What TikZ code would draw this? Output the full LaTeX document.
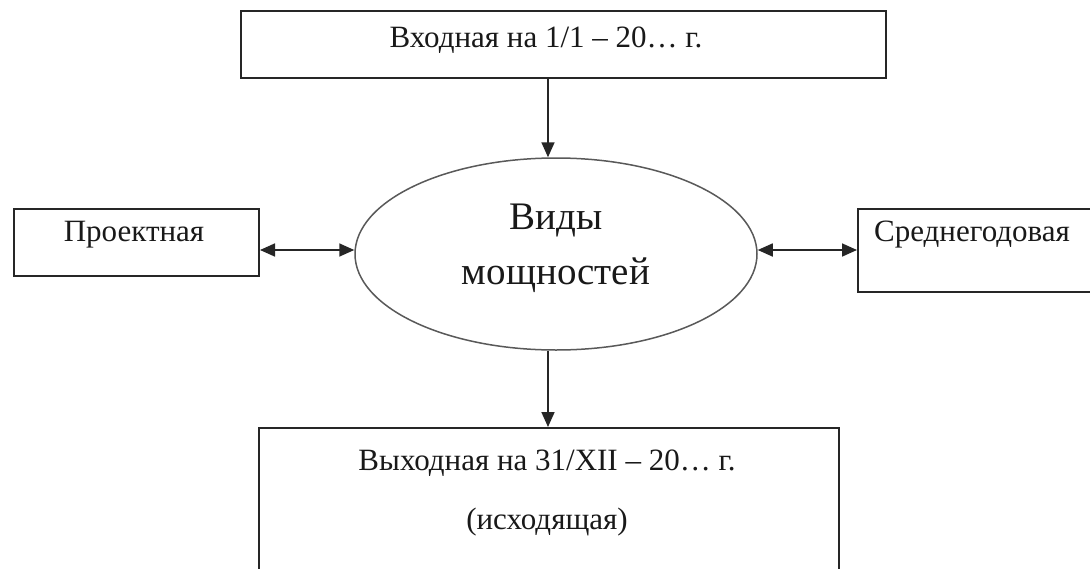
\documentclass[tikz,border=0pt]{standalone}
\usepackage{fontspec}
\setmainfont{Liberation Serif}
\usetikzlibrary{arrows.meta,shapes.geometric}
\begin{document}
\begin{tikzpicture}[x=1pt,y=-1pt,
  box/.style={draw=black!85,line width=2pt,rectangle,inner sep=0pt,anchor=north west},
  lbl/.style={font=\fontsize{31}{36}\selectfont,inner sep=0pt,text=black!90},
  conn/.style={line width=1.7pt,black!85,-{Triangle[length=15pt,width=13pt]}},
  dconn/.style={line width=1.7pt,black!85,{Triangle[length=15pt,width=13pt]}-{Triangle[length=15pt,width=13pt]}}]
\useasboundingbox (0,0) rectangle (1090,568);
\clip (0,0) rectangle (1090,568);
\fill[white] (0,0) rectangle (1090,568);
% boxes
\node[box,minimum width=645pt,minimum height=67pt] (top) at (240,10) {};
\node[lbl] (toptext) at (546,40) {Входная на 1/1 – 20… г.};
\node[box,minimum width=245pt,minimum height=67pt] (left) at (13,208) {};
\node[lbl] (lefttext) at (134,235) {Проектная};
\node[box,minimum width=260pt,minimum height=83pt] (right) at (857,208) {};
\node[lbl] (righttext) at (972,235) {Среднегодовая};
\node[box,minimum width=580pt,minimum height=170pt] (bottom) at (258,427) {};
\node[lbl] (bottext1) at (547,463) {Выходная на 31/XII – 20… г.};
\node[lbl] (bottext2) at (547,522) {(исходящая)};
% ellipse
\node[draw=black!65,line width=1.5pt,ellipse,minimum width=402pt,minimum height=192pt,inner sep=0pt] (center) at (556,254) {};
\node[font=\fontsize{39}{45}\selectfont,align=center,inner sep=0pt,text=black!90] (centertext) at (556,248) {Виды\\[10pt]мощностей};
% connectors
\draw[conn] (top.south -| 548,0) -- (center.north -| 548,0);
\draw[conn] (center.south -| 548,0) -- (bottom.north -| 548,0);
\draw[dconn] (left.east |- 0,250) -- (center.west |- 0,250);
\draw[dconn] (center.east |- 0,250) -- (right.west |- 0,250);
\end{tikzpicture}
\end{document}
